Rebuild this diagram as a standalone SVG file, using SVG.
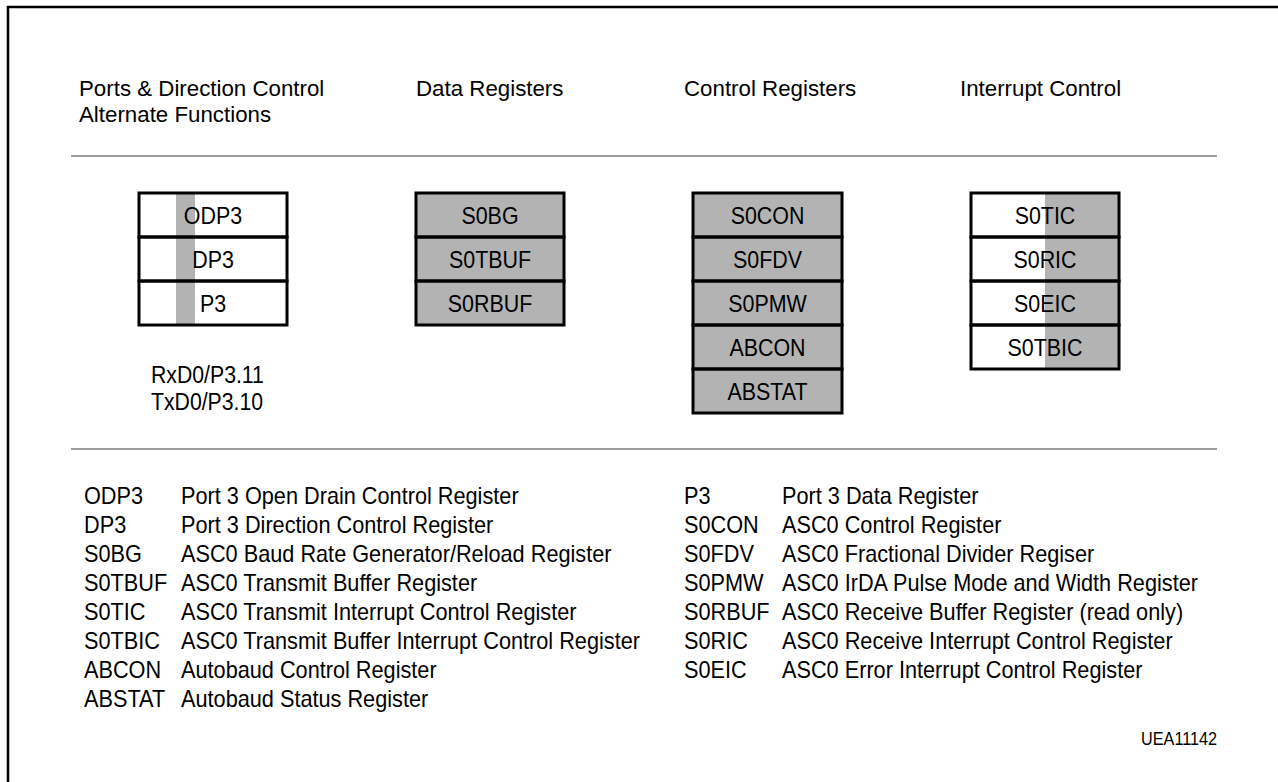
<svg xmlns="http://www.w3.org/2000/svg" width="1278" height="782" viewBox="0 0 1278 782">
<style>
text{font-family:"Liberation Sans",Arial,sans-serif;fill:#000}
.h{font-size:23px}
.lg{font-size:23.6px}
.bl{font-size:23.8px;text-anchor:middle}
.row{fill:none;stroke:#000;stroke-width:3}
.g{fill:#b3b3b3}
.w{fill:#fff}
.sep{stroke:#7a7a7a;stroke-width:1.6}
</style>
<rect x="0" y="0" width="1278" height="782" fill="#fff"/>
<path d="M8 790 V7 H1290" fill="none" stroke="#000" stroke-width="2.5"/>

<g id="headers">
<text class="h" transform="translate(79,96) scale(0.97,1)">Ports &amp; Direction Control</text>
<text class="h" transform="translate(79,121.5) scale(0.97,1)">Alternate Functions</text>
<text class="h" transform="translate(416,96) scale(0.97,1)">Data Registers</text>
<text class="h" transform="translate(684,96) scale(0.97,1)">Control Registers</text>
<text class="h" transform="translate(960,96) scale(0.97,1)">Interrupt Control</text>
</g>

<g id="separators">
<line class="sep" x1="71" y1="156" x2="1217" y2="156"/>
<line class="sep" x1="71" y1="449" x2="1217" y2="449"/>
</g>

<g id="ports">
<rect class="w" x="139" y="193" width="148" height="132"/>
<rect class="g" x="176" y="193" width="19" height="132"/>
<rect class="row" x="139" y="193" width="148" height="44"/>
<rect class="row" x="139" y="237" width="148" height="44"/>
<rect class="row" x="139" y="281" width="148" height="44"/>
<text class="bl" transform="translate(213,224) scale(0.9,1)">ODP3</text>
<text class="bl" transform="translate(213,268) scale(0.9,1)">DP3</text>
<text class="bl" transform="translate(213,312) scale(0.9,1)">P3</text>
</g>

<g id="pins">
<text class="lg" transform="translate(151,383) scale(0.9,1)">RxD0/P3.11</text>
<text class="lg" transform="translate(151,410) scale(0.9,1)">TxD0/P3.10</text>
</g>

<g id="data">
<rect class="g" x="416" y="193" width="148" height="132"/>
<rect class="row" x="416" y="193" width="148" height="44"/>
<rect class="row" x="416" y="237" width="148" height="44"/>
<rect class="row" x="416" y="281" width="148" height="44"/>
<text class="bl" transform="translate(490,224) scale(0.9,1)">S0BG</text>
<text class="bl" transform="translate(490,268) scale(0.9,1)">S0TBUF</text>
<text class="bl" transform="translate(490,312) scale(0.9,1)">S0RBUF</text>
</g>

<g id="control">
<rect class="g" x="693" y="193" width="149" height="220"/>
<rect class="row" x="693" y="193" width="149" height="44"/>
<rect class="row" x="693" y="237" width="149" height="44"/>
<rect class="row" x="693" y="281" width="149" height="44"/>
<rect class="row" x="693" y="325" width="149" height="44"/>
<rect class="row" x="693" y="369" width="149" height="44"/>
<text class="bl" transform="translate(767.5,224) scale(0.9,1)">S0CON</text>
<text class="bl" transform="translate(767.5,268) scale(0.9,1)">S0FDV</text>
<text class="bl" transform="translate(767.5,312) scale(0.9,1)">S0PMW</text>
<text class="bl" transform="translate(767.5,356) scale(0.9,1)">ABCON</text>
<text class="bl" transform="translate(767.5,400) scale(0.9,1)">ABSTAT</text>
</g>

<g id="interrupt">
<rect class="w" x="971" y="193" width="148" height="176"/>
<rect class="g" x="1045" y="193" width="74" height="176"/>
<rect class="row" x="971" y="193" width="148" height="44"/>
<rect class="row" x="971" y="237" width="148" height="44"/>
<rect class="row" x="971" y="281" width="148" height="44"/>
<rect class="row" x="971" y="325" width="148" height="44"/>
<text class="bl" transform="translate(1045,224) scale(0.9,1)">S0TIC</text>
<text class="bl" transform="translate(1045,268) scale(0.9,1)">S0RIC</text>
<text class="bl" transform="translate(1045,312) scale(0.9,1)">S0EIC</text>
<text class="bl" transform="translate(1045,356) scale(0.9,1)">S0TBIC</text>
</g>

<g id="legend-left">
<text class="lg" transform="translate(84,503.5) scale(0.92,1)">ODP3</text><text class="lg" transform="translate(181,503.5) scale(0.92,1)">Port 3 Open Drain Control Register</text>
<text class="lg" transform="translate(84,532.5) scale(0.92,1)">DP3</text><text class="lg" transform="translate(181,532.5) scale(0.92,1)">Port 3 Direction Control Register</text>
<text class="lg" transform="translate(84,561.5) scale(0.92,1)">S0BG</text><text class="lg" transform="translate(181,561.5) scale(0.92,1)">ASC0 Baud Rate Generator/Reload Register</text>
<text class="lg" transform="translate(84,590.5) scale(0.92,1)">S0TBUF</text><text class="lg" transform="translate(181,590.5) scale(0.92,1)">ASC0 Transmit Buffer Register</text>
<text class="lg" transform="translate(84,619.5) scale(0.92,1)">S0TIC</text><text class="lg" transform="translate(181,619.5) scale(0.92,1)">ASC0 Transmit Interrupt Control Register</text>
<text class="lg" transform="translate(84,648.5) scale(0.92,1)">S0TBIC</text><text class="lg" transform="translate(181,648.5) scale(0.92,1)">ASC0 Transmit Buffer Interrupt Control Register</text>
<text class="lg" transform="translate(84,677.5) scale(0.92,1)">ABCON</text><text class="lg" transform="translate(181,677.5) scale(0.92,1)">Autobaud Control Register</text>
<text class="lg" transform="translate(84,706.5) scale(0.92,1)">ABSTAT</text><text class="lg" transform="translate(181,706.5) scale(0.92,1)">Autobaud Status Register</text>
</g>

<g id="legend-right">
<text class="lg" transform="translate(684,503.5) scale(0.92,1)">P3</text><text class="lg" transform="translate(782,503.5) scale(0.92,1)">Port 3 Data Register</text>
<text class="lg" transform="translate(684,532.5) scale(0.92,1)">S0CON</text><text class="lg" transform="translate(782,532.5) scale(0.92,1)">ASC0 Control Register</text>
<text class="lg" transform="translate(684,561.5) scale(0.92,1)">S0FDV</text><text class="lg" transform="translate(782,561.5) scale(0.92,1)">ASC0 Fractional Divider Regiser</text>
<text class="lg" transform="translate(684,590.5) scale(0.92,1)">S0PMW</text><text class="lg" transform="translate(782,590.5) scale(0.92,1)">ASC0 IrDA Pulse Mode and Width Register</text>
<text class="lg" transform="translate(684,619.5) scale(0.92,1)">S0RBUF</text><text class="lg" transform="translate(782,619.5) scale(0.92,1)">ASC0 Receive Buffer Register (read only)</text>
<text class="lg" transform="translate(684,648.5) scale(0.92,1)">S0RIC</text><text class="lg" transform="translate(782,648.5) scale(0.92,1)">ASC0 Receive Interrupt Control Register</text>
<text class="lg" transform="translate(684,677.5) scale(0.92,1)">S0EIC</text><text class="lg" transform="translate(782,677.5) scale(0.92,1)">ASC0 Error Interrupt Control Register</text>
</g>

<text id="figid" transform="translate(1217,745) scale(0.9,1)" font-size="18" text-anchor="end">UEA11142</text>
</svg>
